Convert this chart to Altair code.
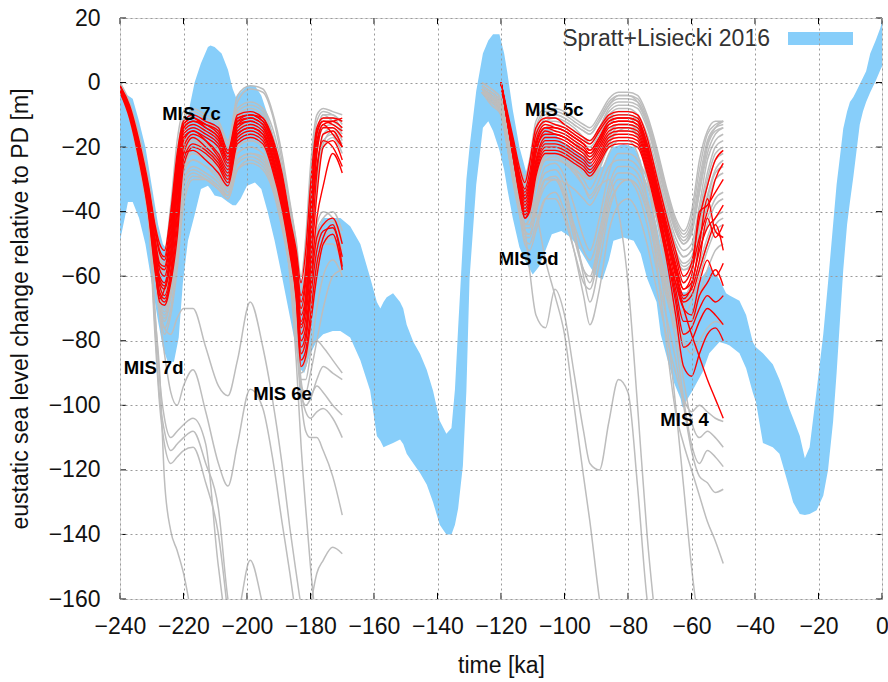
import altair as alt
import pandas as pd

FONT = "Liberation Sans"
BLUE = "#87cefa"
GREY = "#bdbdbd"
RED = "#ff0000"

XT = [-240, -220, -200, -180, -160, -140, -120, -100, -80, -60, -40, -20, 0]
YT = [-160, -140, -120, -100, -80, -60, -40, -20, 0, 20]
LEGEND_NAME = ["Spratt+Lisiecki 2016"]

# ---- Spratt+Lisiecki 2016 band (upper / lower envelope) ----
BAND_T = [-240, -238.5, -237.5, -236, -234, -232, -230, -228, -226.5, -225, -223, -221.5, -220.2, -218.6,
          -216.5, -214.5, -212.3, -211.5, -210.2, -208, -206, -204.5, -203.5, -202, -200, -197.5, -195.5,
          -193.5, -191.3, -189.2, -187.2, -185, -183.5, -182, -180, -178, -176, -173, -170.6, -167.5, -164.3,
          -161.2, -159.1, -158, -157, -156, -154, -151.8, -150.8, -149.7, -147.6, -145.5, -143.4, -141.4,
          -139.3, -137.2, -135.6, -134.5, -133.5, -132.6, -132, -130.9, -129.9, -127.8, -125.7, -124, -122.5,
          -120.5, -119, -118, -116.3, -114.2, -112, -110, -108, -106, -104, -101, -98, -95, -92, -90, -88,
          -86, -84.6, -81.4, -78.2, -76, -74, -71, -69.7, -67, -65.5, -63.4, -62.9, -59.7, -56.5, -54.4,
          -51.2, -49.1, -48, -44.9, -42.8, -40.7, -39.7, -37.5, -34.4, -32.3, -31.2, -29.1, -28, -25.9,
          -24.3, -22.8, -20.6, -18.5, -17, -15.4, -14.3, -13, -12.2, -11, -10.1, -9, -8, -7, -6, -5, -3.7,
          -2, -0.5, 0]
BAND_UP = [-2, -3, -4, -5, -12, -20, -32, -44, -50, -52, -48, -35, -22, -10,
           0, 6, 11, 11.5, 11, 9, 4, -2, -4.5, -3, -1, -1, -4,
           -10, -18, -28, -40, -52, -60, -62, -55, -46, -42, -42, -42, -44.5, -50,
           -60.5, -68, -70, -68, -66.5, -65.3, -68, -70, -75, -80.4, -84, -89, -95.5,
           -104.8, -108.8, -107, -95, -76, -60, -49, -30, -20, -2.6, 9, 13, 15,
           15, 9, 3, -8.4, -20, -28, -22, -16, -14, -15, -18, -20, -22, -24, -27, -26,
           -22, -20, -19, -20, -24, -32, -44, -50, -57, -61, -64, -65, -65, -60, -57,
           -61, -65.3, -66, -67.6, -72, -80.4, -82, -83.9, -87.3, -92, -95, -101.3, -104, -109.4,
           -116.4, -113, -95.5, -78, -62, -44, -31.6, -21, -14.2, -9, -6, -4.5, -2.5, -0.5, 1.5, 3.5, 9,
           13, 17, 19]
BAND_LO = [-49, -42, -37, -37, -42, -50, -62, -74, -82, -86.5, -86.5, -79, -62, -49,
           -41, -33, -32, -33, -35, -35.5, -37, -38, -38, -36, -32, -31, -33,
           -40, -49, -59, -69, -80, -88.5, -90, -84, -80, -78, -77, -77, -79, -86,
           -95.5, -109.5, -111, -113, -112.5, -111.7, -110.6, -112, -115, -118, -121, -124.5, -130,
           -137, -140, -140, -137, -132, -124, -118.7, -95.5, -60.6, -31.6, -14, -12, -15,
           -21, -27, -33, -42, -51, -56, -59.5, -57, -52, -47, -46, -48, -52, -57, -60, -61,
           -55, -49, -48, -49, -53, -60.6, -68, -78, -88, -93, -98, -100.7, -95.5, -89.7, -83.9,
           -80.4, -81, -81.5, -83.9, -88.5, -96, -99, -111.7, -113, -115, -118.7, -126, -130, -133.7,
           -134, -133.7, -132.5, -128, -120, -105, -90, -70, -58, -44, -37, -29, -21, -13, -9, -6, -3,
           0.5, 4, 5]

# ---- model ensemble, glacial cycle 1 (time grid T1) ----
T1 = [-240, -237, -234, -231, -229, -227.5, -226, -224, -222, -220, -217, -213, -209, -206,
      -203, -199, -195, -192, -189, -186.5, -184.5, -183, -181.5, -180, -178, -176, -173, -170]

RED_1 = [
    [-1, -7, -18, -32, -44, -50, -52, -40, -22, -12, -10, -12, -14, -21, -10, -9, -11, -17, -28, -42, -52, -62, -52, -32, -14, -11, -11, -12],
    [-1, -8, -19, -34, -46, -53, -55, -44, -25, -13, -11, -13, -16, -22, -11, -10, -12, -18, -30, -44, -55, -66, -58, -38, -16, -12, -13, -15],
    [-2, -8, -20, -35, -48, -56, -57, -46, -27, -14, -12, -14, -17, -23, -12, -10, -12, -19, -31, -45, -57, -70, -62, -42, -18, -13, -12, -11],
    [-2, -9, -21, -36, -50, -58, -60, -50, -30, -15, -13, -15, -18, -24, -12, -11, -13, -20, -32, -46, -58, -72, -66, -48, -22, -14, -14, -17],
    [-2, -9, -21, -37, -52, -60, -62, -52, -32, -16, -14, -16, -19, -25, -13, -12, -14, -21, -33, -47, -60, -75, -70, -55, -28, -16, -15, -20],
    [-1, -8, -20, -36, -51, -62, -64, -55, -35, -18, -15, -17, -20, -26, -14, -12, -14, -22, -34, -48, -62, -78, -73, -58, -35, -20, -18, -24],
    [-2, -9, -22, -38, -53, -63, -66, -58, -38, -20, -16, -18, -22, -27, -15, -13, -15, -23, -35, -49, -63, -80, -76, -62, -42, -32, -22, -28],
    [-2, -10, -22, -38, -54, -65, -67, -60, -42, -22, -17, -20, -24, -29, -16, -14, -16, -24, -36, -50, -64, -82, -78, -64, -48, -44, -42, -50],
    [-3, -10, -23, -39, -55, -66, -68, -61, -45, -24, -19, -21, -25, -30, -17, -15, -17, -25, -37, -51, -65, -84, -80, -67, -52, -46, -45, -54],
    [-2, -10, -23, -40, -57, -68, -69, -62, -48, -26, -20, -22, -26, -31, -18, -16, -18, -26, -38, -52, -66, -86, -83, -72, -56, -48, -44, -57],
    [-3, -11, -24, -41, -58, -67, -64, -55, -40, -22, -21, -24, -28, -32, -19, -17, -19, -27, -39, -53, -67, -88, -85, -75, -60, -50, -47, -58],
    [-2, -9, -21, -35, -49, -57, -58, -48, -28, -14, -12, -13, -15, -22, -11, -10, -11, -18, -29, -43, -54, -68, -60, -40, -15, -12, -12, -14],
    [-1, -8, -19, -33, -45, -52, -54, -42, -24, -13, -11, -14, -17, -24, -13, -11, -13, -20, -31, -45, -56, -76, -70, -50, -20, -13, -16, -20],
    [-2, -9, -22, -37, -52, -61, -63, -54, -34, -17, -15, -18, -23, -28, -16, -14, -16, -23, -35, -49, -61, -74, -67, -46, -26, -18, -20, -26],
]

GREY_1 = [
    [0, -6, -16, -30, -42, -50, -52, -38, -18, -9, -8, -10, -12, -18, -6, -2, -3, -10, -24, -38, -50, -64, -55, -30, -12, -9, -10, -12],
    [-1, -7, -18, -32, -45, -54, -56, -44, -24, -12, -10, -12, -15, -20, -8, -6, -8, -14, -26, -40, -52, -66, -58, -36, -16, -10, -12, -14],
    [-1, -8, -20, -35, -50, -60, -62, -52, -32, -18, -17, -19, -22, -26, -14, -13, -15, -22, -34, -48, -60, -74, -70, -52, -30, -16, -14, -18],
    [-2, -9, -22, -38, -54, -65, -68, -60, -42, -25, -22, -24, -28, -33, -20, -18, -20, -27, -38, -52, -65, -82, -78, -62, -44, -40, -42, -48],
    [-2, -10, -24, -40, -57, -70, -74, -66, -50, -30, -26, -28, -31, -35, -24, -22, -24, -30, -42, -56, -70, -90, -88, -76, -60, -50, -48, -55],
    [-3, -11, -25, -42, -60, -72, -78, -72, -58, -38, -30, -30, -33, -36, -27, -25, -27, -33, -45, -58, -72, -94, -96, -90, -80, -70, -60, -58],
    [-2, -9, -21, -37, -52, -62, -65, -56, -36, -20, -18, -20, -24, -28, -16, -14, -16, -23, -35, -49, -63, -80, -74, -56, -32, -20, -17, -22],
    [-1, -8, -19, -33, -47, -55, -58, -47, -27, -14, -12, -14, -17, -22, -10, -8, -10, -17, -29, -43, -55, -70, -64, -44, -20, -11, -11, -15],
    [-2, -10, -23, -39, -56, -68, -71, -64, -47, -28, -24, -26, -29, -34, -22, -20, -22, -29, -40, -54, -67, -86, -84, -72, -58, -48, -46, -52],
    [0, -7, -17, -31, -44, -52, -54, -42, -22, -11, -9, -11, -13, -19, -4, -1, -2, -9, -22, -37, -49, -60, -48, -26, -10, -8, -9, -10],
    [-1, -8, -20, -34, -48, -57, -59, -49, -29, -15, -13, -15, -18, -23, -11, -9, -11, -18, -30, -44, -56, -71, -66, -46, -22, -14, -13, -16],
    [-2, -9, -21, -36, -51, -61, -63, -54, -34, -19, -16, -18, -21, -26, -13, -11, -13, -20, -32, -46, -59, -76, -71, -52, -28, -18, -16, -19],
    [-2, -10, -23, -39, -55, -66, -69, -61, -44, -27, -24, -26, -30, -34, -22, -20, -22, -29, -40, -54, -66, -84, -80, -66, -50, -44, -43, -50],
    [-3, -11, -24, -41, -58, -70, -73, -66, -50, -32, -28, -30, -33, -35, -25, -23, -25, -31, -43, -57, -70, -88, -86, -74, -58, -50, -50, -56],
    [-2, -9, -22, -37, -53, -64, -67, -58, -39, -23, -20, -22, -26, -31, -19, -17, -19, -26, -37, -51, -64, -83, -80, -65, -46, -42, -40, -46],
    [-1, -7, -18, -32, -46, -54, -57, -46, -26, -13, -11, -13, -16, -21, -9, -7, -9, -16, -28, -42, -54, -68, -62, -40, -18, -10, -10, -13],
    [-2, -10, -24, -40, -57, -69, -72, -65, -48, -30, -27, -29, -32, -35, -24, -22, -23, -30, -42, -56, -69, -92, -92, -84, -70, -60, -55, -60],
    [-3, -11, -25, -42, -59, -72, -76, -70, -55, -35, -29, -30, -33, -36, -27, -24, -26, -32, -44, -58, -71, -96, -100, -98, -92, -88, -90, -92],
    [-2, -9, -21, -36, -51, -62, -66, -58, -38, -21, -19, -21, -25, -29, -17, -15, -17, -24, -36, -50, -62, -78, -72, -54, -30, -19, -15, -20],
    [-2, -10, -24, -41, -58, -70, -76, -78, -73, -70, -70, -82, -94, -97, -86, -68, -82, -98, -118, -138, -152, -162, -170, -162, -152, -148, -144, -146],
    [-1, -9, -22, -38, -54, -72, -84, -96, -100, -94, -89, -102, -118, -125, -112, -95, -101, -116, -136, -152, -166],
    [-2, -10, -24, -41, -75, -98, -108, -114, -112, -110, -108, -118, -132, -160, -172],
    [-2, -10, -24, -42, -78, -100, -112, -118, -116, -114, -113, -124, -140, -165],
    [-2, -10, -25, -43, -72, -90, -123, -139, -145, -152, -168],
    [-2, -10, -24, -41, -70, -92, -104, -110, -108, -106, -104, -112, -150, -168, -165, -148, -162, -175],
    [-2, -9, -22, -37, -52, -63, -66, -57, -37, -21, -18, -21, -25, -29, -17, -15, -17, -24, -36, -56, -75, -95, -102, -104, -102, -101, -104, -110],
    [-1, -9, -21, -36, -51, -61, -64, -55, -35, -19, -17, -19, -23, -28, -15, -13, -15, -22, -34, -58, -80, -98, -108, -110, -110, -114, -122, -134],
    [-2, -10, -23, -39, -55, -66, -69, -62, -44, -26, -21, -23, -27, -31, -19, -17, -19, -26, -38, -55, -72, -92, -98, -97, -94, -96, -100, -103],
    [-2, -9, -21, -37, -53, -64, -67, -59, -40, -22, -19, -22, -26, -30, -18, -16, -18, -25, -37, -52, -68, -88, -86, -82, -80, -82, -86, -90],
    [-2, -10, -23, -40, -56, -67, -70, -63, -46, -27, -22, -24, -28, -32, -20, -18, -20, -27, -40, -60, -86, -112, -132, -150, -170],
]

# ---- model ensemble, glacial cycle 2 ----
T2 = [-120, -118, -116, -114, -112.5, -111, -109, -106, -103, -100, -97, -94, -92, -89, -86,
      -83, -80, -77, -74, -71, -68, -65, -62.5, -60, -57.5, -55, -52.5, -50]
T2G = [-126, -123] + T2

RED_2 = [
    [0, -9, -18, -27, -31, -25, -14, -11, -11, -13, -15, -17, -18, -14, -10, -9, -9, -10, -17, -29, -41, -52, -60, -56, -42, -32, -24, -21],
    [0, -10, -19, -29, -33, -28, -16, -12, -13, -14, -16, -18, -19, -15, -11, -10, -10, -11, -19, -31, -43, -54, -62, -58, -48, -40, -30, -25],
    [0, -10, -20, -30, -34, -30, -18, -13, -14, -15, -17, -19, -21, -17, -12, -11, -11, -12, -20, -32, -45, -56, -64, -62, -52, -45, -42, -38],
    [0, -11, -21, -31, -36, -32, -20, -14, -15, -16, -18, -20, -22, -18, -13, -12, -12, -13, -21, -33, -46, -58, -66, -64, -55, -42, -48, -44],
    [0, -11, -22, -32, -37, -34, -22, -15, -16, -17, -19, -21, -23, -19, -14, -13, -13, -14, -22, -34, -47, -60, -68, -66, -58, -50, -44, -52],
    [0, -11, -22, -33, -38, -35, -24, -17, -17, -18, -20, -22, -24, -20, -15, -14, -14, -15, -23, -35, -48, -62, -70, -72, -62, -55, -60, -56],
    [0, -12, -23, -34, -39, -36, -25, -18, -18, -19, -21, -23, -25, -21, -16, -15, -15, -16, -24, -36, -50, -64, -74, -74, -66, -62, -58, -63],
    [0, -12, -23, -34, -40, -37, -26, -19, -19, -20, -22, -24, -26, -22, -17, -16, -16, -17, -25, -37, -51, -66, -78, -76, -70, -66, -68, -66],
    [0, -12, -24, -35, -41, -38, -27, -20, -20, -21, -23, -25, -27, -23, -18, -17, -17, -18, -26, -38, -52, -68, -82, -80, -74, -70, -72, -75],
    [0, -12, -24, -35, -42, -39, -28, -21, -21, -22, -24, -26, -28, -24, -19, -18, -18, -19, -27, -39, -53, -62, -70, -78, -85, -92, -98, -104],
    [0, -12, -24, -36, -42, -40, -29, -22, -22, -23, -25, -27, -29, -25, -20, -19, -19, -20, -28, -40, -54, -72, -88, -91, -84, -78, -76, -80],
    [0, -10, -20, -30, -35, -31, -19, -14, -14, -15, -17, -19, -21, -17, -12, -11, -11, -12, -19, -31, -44, -57, -64, -60, -40, -38, -34, -30],
    [0, -11, -21, -31, -36, -33, -21, -16, -16, -17, -19, -21, -22, -18, -13, -12, -12, -13, -21, -33, -46, -59, -67, -63, -50, -36, -46, -48],
]

GREY_2 = [
    [0, -2, -5, -11, -19, -26, -29, -24, -12, -8, -8, -9, -11, -13, -14, -10, -5, -3, -3, -4, -10, -20, -32, -42, -46, -40, -24, -15, -12, -12],
    [-1, -3, -6, -13, -21, -28, -31, -27, -15, -10, -10, -11, -13, -15, -16, -12, -7, -5, -5, -6, -12, -22, -34, -44, -48, -44, -30, -18, -14, -13],
    [-2, -4, -7, -14, -23, -31, -35, -31, -20, -14, -14, -15, -17, -19, -20, -16, -11, -9, -9, -10, -16, -26, -38, -48, -52, -50, -38, -24, -18, -16],
    [-2, -5, -8, -16, -26, -35, -40, -37, -26, -18, -18, -19, -21, -23, -24, -20, -15, -13, -13, -14, -20, -30, -42, -52, -56, -54, -44, -32, -24, -22],
    [-3, -6, -9, -18, -28, -38, -44, -42, -32, -24, -24, -25, -27, -29, -30, -26, -20, -18, -18, -19, -25, -36, -48, -58, -62, -58, -50, -42, -36, -34],
    [-3, -7, -10, -20, -31, -41, -48, -48, -40, -32, -30, -31, -33, -36, -38, -33, -26, -24, -24, -26, -32, -42, -55, -65, -68, -64, -58, -50, -44, -42],
    [-1, -3, -6, -12, -20, -27, -31, -27, -16, -12, -11, -12, -14, -17, -19, -14, -8, -6, -6, -7, -13, -24, -36, -46, -50, -46, -34, -22, -16, -14],
    [-2, -4, -7, -15, -24, -33, -38, -34, -22, -15, -15, -16, -18, -21, -23, -18, -12, -10, -10, -12, -18, -28, -40, -50, -54, -52, -40, -28, -20, -18],
    [-2, -5, -8, -17, -27, -36, -42, -40, -30, -22, -21, -23, -26, -30, -33, -27, -19, -15, -14, -16, -22, -33, -45, -55, -58, -56, -46, -36, -28, -26],
    [-3, -6, -9, -19, -30, -39, -45, -45, -36, -28, -27, -32, -45, -60, -68, -56, -40, -32, -30, -32, -40, -52, -64, -72, -70, -64, -56, -48, -42, -40],
    [0, -2, -5, -12, -20, -27, -30, -26, -14, -9, -9, -10, -12, -14, -15, -11, -6, -4, -4, -5, -11, -21, -33, -43, -47, -42, -27, -16, -13, -12],
    [-1, -3, -6, -13, -22, -29, -33, -29, -18, -12, -12, -13, -15, -17, -18, -14, -9, -7, -7, -8, -14, -24, -36, -46, -50, -47, -34, -20, -15, -14],
    [-2, -4, -7, -15, -25, -33, -38, -35, -24, -16, -16, -17, -19, -22, -23, -19, -13, -11, -11, -12, -18, -28, -40, -50, -54, -52, -42, -30, -22, -20],
    [-2, -5, -8, -17, -27, -36, -42, -40, -30, -21, -20, -22, -25, -28, -30, -25, -18, -15, -15, -16, -22, -32, -44, -54, -58, -57, -48, -38, -30, -28],
    [-3, -6, -9, -19, -30, -40, -47, -47, -40, -30, -30, -35, -44, -52, -55, -46, -32, -26, -26, -28, -36, -48, -60, -70, -72, -68, -60, -52, -46, -44],
    [-3, -6, -10, -20, -31, -41, -49, -50, -44, -36, -36, -42, -52, -62, -64, -52, -38, -32, -30, -32, -40, -54, -66, -76, -78, -74, -66, -58, -52, -50],
    [-2, -5, -9, -18, -29, -38, -44, -44, -36, -26, -25, -29, -38, -48, -52, -42, -28, -22, -22, -24, -30, -42, -54, -64, -66, -62, -52, -44, -38, -36],
    [-1, -3, -6, -12, -21, -28, -32, -28, -17, -11, -10, -11, -13, -15, -16, -12, -7, -4, -4, -6, -12, -23, -35, -45, -49, -45, -32, -19, -14, -12],
    [-2, -4, -8, -16, -26, -34, -39, -37, -27, -19, -19, -20, -23, -26, -28, -23, -16, -13, -13, -15, -21, -31, -43, -53, -57, -55, -46, -35, -27, -24],
    [-3, -6, -9, -18, -29, -38, -45, -45, -38, -30, -30, -36, -48, -58, -60, -48, -34, -28, -28, -30, -38, -50, -62, -74, -80, -84, -80, -76, -74, -75],
    [-3, -6, -10, -20, -32, -42, -50, -52, -46, -36, -34, -40, -52, -66, -75, -64, -46, -38, -36, -40, -50, -64, -78, -90, -98, -102, -100, -102, -104, -105],
    [-2, -5, -9, -18, -29, -38, -46, -47, -40, -30, -29, -34, -46, -58, -62, -50, -36, -30, -30, -34, -44, -58, -72, -86, -100, -114, -122, -124, -127, -126],
    [-2, -5, -8, -16, -25, -35, -45, -58, -72, -76, -64, -72, -90, -108, -118, -120, -105, -92, -96, -125, -160, -175],
    [-2, -4, -7, -15, -24, -33, -38, -36, -40, -55, -66, -78, -100, -122, -136, -160, -178],
    [-2, -5, -8, -17, -27, -36, -42, -40, -30, -23, -22, -24, -27, -32, -36, -32, -30, -40, -62, -100, -140, -170],
    [-2, -4, -7, -14, -23, -31, -35, -31, -20, -14, -13, -14, -16, -18, -19, -15, -10, -8, -8, -10, -28, -48, -72, -100, -125, -150, -170],
    [-2, -5, -8, -16, -25, -33, -38, -35, -24, -17, -16, -17, -19, -22, -24, -19, -13, -11, -11, -14, -26, -42, -58, -75, -92, -105, -110, -108, -110, -113],
    [-3, -5, -9, -17, -27, -36, -41, -38, -28, -20, -19, -21, -24, -27, -29, -24, -17, -14, -14, -17, -30, -46, -64, -80, -98, -112, -118, -114, -116, -119],
    [-2, -5, -9, -17, -28, -38, -44, -42, -32, -24, -23, -25, -28, -32, -35, -30, -22, -18, -18, -22, -36, -56, -80, -102, -112, -120, -128, -136, -142, -149],
]

LABELS = ["MIS 7c", "MIS 7d", "MIS 6e", "MIS 5c", "MIS 5d", "MIS 4"]
LABEL_T = [-217.5, -229.4, -188.8, -103.2, -111.3, -62.2]
LABEL_V = [-9.6, -88.5, -96.6, -8.4, -54.8, -104.6]


def lines_df(grid, lines, prefix):
    rows = []
    for i, vals in enumerate(lines):
        for k, (t, v) in enumerate(zip(grid, vals)):
            rows.append({"id": f"{prefix}{i}", "t": t, "v": v, "k": k})
    return pd.DataFrame(rows)


grey_df = pd.concat([lines_df(T1, GREY_1, "g1_"), lines_df(T2G, GREY_2, "g2_")])
red_df = pd.concat([lines_df(T1, RED_1, "r1_"), lines_df(T2, RED_2, "r2_")])
band_df = pd.DataFrame({"t": BAND_T, "up": BAND_UP, "lo": BAND_LO})
lab_df = pd.DataFrame({"t": LABEL_T, "v": LABEL_V, "label": LABELS})
leg_df = pd.DataFrame({"name": LEGEND_NAME})

tick_len_y = 1.9   # metres (~6 px)
tick_len_x = 1.9   # ka (~6 px)
xticks_df = pd.DataFrame(
    [{"t": t, "a": -160, "b": -160 + tick_len_y} for t in XT] +
    [{"t": t, "a": 20, "b": 20 - tick_len_y} for t in XT])
yticks_df = pd.DataFrame(
    [{"v": v, "a": -240, "b": -240 + tick_len_x} for v in YT] +
    [{"v": v, "a": 0, "b": -tick_len_x} for v in YT])

XS = alt.Scale(domain=[-240, 0], nice=False, zero=False)
YS = alt.Scale(domain=[-160, 20], nice=False, zero=False)

common_axis = dict(
    ticks=False, tickSize=0, domain=False, grid=True,
    gridDash=[2, 3], gridColor="#9a9a9a", gridWidth=1, gridOpacity=1,
    labelFont=FONT, labelFontSize=23, labelColor="#111111", labelOverlap=False,
    titleFont=FONT, titleFontSize=23, titleFontWeight="normal", titleColor="#111111",
    zindex=1,
)
XAX = alt.Axis(values=XT, labelPadding=16, titlePadding=16, labelFlush=False, **common_axis)
YAX = alt.Axis(values=YT, labelPadding=20, titlePadding=16, labelFlush=False, **common_axis)

XTITLE = "time [ka]"
YTITLE = "eustatic sea level change relative to PD [m]"


def X(f):
    return alt.X(f"{f}:Q", scale=XS, axis=XAX, title=XTITLE)


def Y(f):
    return alt.Y(f"{f}:Q", scale=YS, axis=YAX, title=YTITLE)


band = alt.Chart(band_df).mark_area(opacity=1, interpolate="linear", clip=True, color=BLUE).encode(
    x=X("t"), y=Y("up"), y2="lo:Q")

grey = alt.Chart(grey_df).mark_line(color=GREY, strokeWidth=1.5, clip=True, interpolate="monotone").encode(
    x=X("t"), y=Y("v"), detail="id:N", order="k:Q")

red = alt.Chart(red_df).mark_line(color=RED, strokeWidth=1.4, clip=True, interpolate="monotone").encode(
    x=X("t"), y=Y("v"), detail="id:N", order="k:Q")

xticks = alt.Chart(xticks_df).mark_rule(color="black", strokeWidth=1).encode(
    x=X("t"), y=Y("a"), y2="b:Q")
yticks = alt.Chart(yticks_df).mark_rule(color="black", strokeWidth=1).encode(
    y=Y("v"), x=X("a"), x2="b:Q")

labels = alt.Chart(lab_df).mark_text(font=FONT, fontSize=18.5, fontWeight="bold", color="black").encode(
    x=X("t"), y=Y("v"), text="label:N")

# legend (text followed by a blue swatch, as in the original figure)
leg_swatch = alt.Chart(leg_df).mark_rect(color=BLUE).encode(
    x=alt.value(668), x2=alt.value(733), y=alt.value(14), y2=alt.value(27))
leg_text = alt.Chart(leg_df).mark_text(font=FONT, fontSize=23, color="#333333", align="right",
                                       baseline="middle").encode(
    x=alt.value(650), y=alt.value(21), text="name:N")

chart = alt.layer(band, grey, red, xticks, yticks, labels, leg_swatch, leg_text).properties(
    width=762, height=581,
    padding={"left": 120, "top": 18, "right": 6, "bottom": 83},
    autosize=alt.AutoSizeParams(type="none"),
).configure_view(stroke="black", strokeWidth=1.2).configure(background="white")

chart.save("out.html", embed_options={"renderer": "svg", "actions": False})
